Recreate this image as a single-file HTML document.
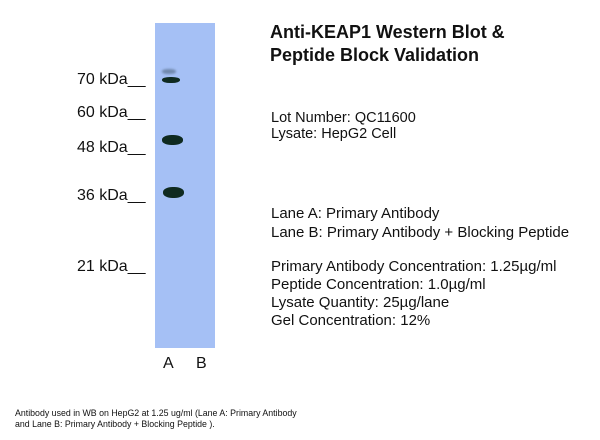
<!DOCTYPE html>
<html><head><style>
body{margin:0;width:600px;height:440px;background:#fff;position:relative;font-family:"Liberation Sans",sans-serif;color:#111;overflow:hidden}
.t{position:absolute;white-space:nowrap}
.m{font-size:16px}
.band{position:absolute;background:#0f2a20;border-radius:45%}
</style></head><body>
<div style="position:absolute;left:155px;top:23px;width:60px;height:325px;background:#a5c0f5"></div>
<div class="band" style="left:162px;top:69px;width:14px;height:5px;background:#7088ac;filter:blur(1px)"></div>
<div class="band" style="left:162px;top:77px;width:18px;height:6px"></div>
<div class="band" style="left:162px;top:135px;width:21px;height:10px"></div>
<div class="band" style="left:163px;top:187px;width:21px;height:11px"></div>
<div class="t m" style="left:77px;top:71px">70 kDa__</div>
<div class="t m" style="left:77px;top:104px">60 kDa__</div>
<div class="t m" style="left:77px;top:139px">48 kDa__</div>
<div class="t m" style="left:77px;top:187px">36 kDa__</div>
<div class="t m" style="left:77px;top:258px">21 kDa__</div>
<div class="t m" style="left:163px;top:355px">A</div>
<div class="t m" style="left:196px;top:355px">B</div>
<div class="t" style="left:270px;top:21px;font-size:18px;font-weight:bold;line-height:23px">Anti-KEAP1 Western Blot &amp;<br>Peptide Block Validation</div>
<div class="t" style="left:271px;top:110px;font-size:14.5px;line-height:16px">Lot Number: QC11600<br>Lysate: HepG2 Cell</div>
<div class="t" style="left:271px;top:204px;font-size:15px;line-height:19px">Lane A: Primary Antibody<br>Lane B: Primary Antibody + Blocking Peptide</div>
<div class="t" style="left:271px;top:258px;font-size:15px;line-height:18px">Primary Antibody Concentration: 1.25µg/ml<br>Peptide Concentration: 1.0µg/ml<br>Lysate Quantity: 25µg/lane<br>Gel Concentration: 12%</div>
<div class="t" style="left:15px;top:408px;font-size:8.8px;line-height:11px">Antibody used in WB on HepG2 at 1.25 ug/ml (Lane A: Primary Antibody<br>and Lane B: Primary Antibody + Blocking Peptide ).</div>
</body></html>
